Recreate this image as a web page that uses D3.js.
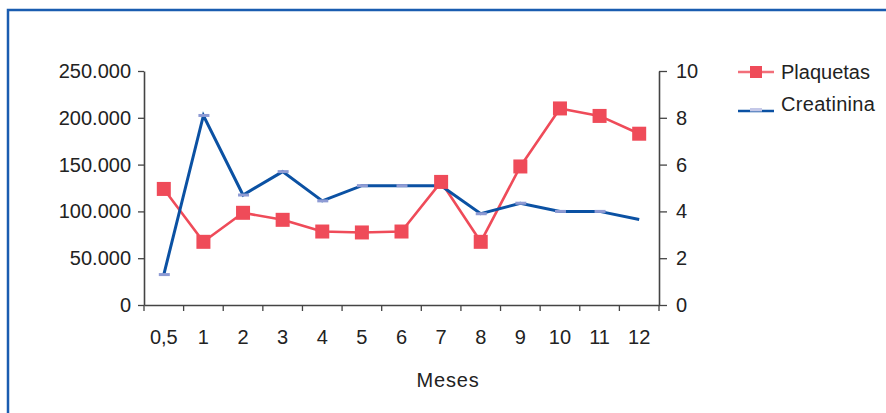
<!DOCTYPE html>
<html>
<head>
<meta charset="utf-8">
<script src="https://cdn.jsdelivr.net/npm/d3@7"></script>
<style>
  html, body { margin: 0; padding: 0; background: #fff; }
  svg { display: block; }
  text { font-family: "Liberation Sans", Arial, Helvetica, sans-serif; fill: #222; }
</style>
</head>
<body>
<svg id="chart" width="886" height="413"></svg>
<script>
const months = ["0,5", "1", "2", "3", "4", "5", "6", "7", "8", "9", "10", "11", "12"];
const plaquetas = [124000, 67500, 98500, 91000, 78500, 77500, 78500, 131500, 67500, 148000, 210000, 202000, 183000];
const creatinina = [1.3, 8.1, 4.7, 5.7, 4.45, 5.1, 5.1, 5.1, 3.9, 4.35, 4.0, 4.0, 3.65];
const leftTicks = [0, 50000, 100000, 150000, 200000, 250000];
const rightTicks = [0, 2, 4, 6, 8, 10];
const seriesNames = ["Plaquetas", "Creatinina"];

const RED = "#ef4b59", BLUE = "#0b51a3", LAV = "#8e9bd4", FRAME = "#1a5cb0", AX = "#444";
const svg = d3.select("#chart");

// frame
svg.append("rect").attr("x", 8).attr("y", 10).attr("width", 900).attr("height", 430)
  .attr("fill", "none").attr("stroke", FRAME).attr("stroke-width", 2.5);

const x = d3.scaleBand().domain(months).range([144, 659]).paddingInner(0).paddingOuter(0);
const yL = d3.scaleLinear().domain([0, 250000]).range([305, 71]);
const yR = d3.scaleLinear().domain([0, 10]).range([305, 71]);
const cx = m => x(m) + x.bandwidth() / 2;

const fmt = d => d3.format(",")(d).replace(/,/g, ".");

// left axis
const gL = svg.append("g").attr("transform", "translate(144,0)")
  .call(d3.axisLeft(yL).tickValues(leftTicks).tickFormat(fmt).tickSize(6).tickSizeOuter(0).tickPadding(7));
// right axis
const gR = svg.append("g").attr("transform", "translate(659,0)")
  .call(d3.axisRight(yR).tickValues(rightTicks).tickSize(8).tickSizeOuter(0).tickPadding(9));
// bottom axis
const gB = svg.append("g").attr("transform", "translate(0,305)")
  .call(d3.axisBottom(x).tickSize(0).tickSizeOuter(0).tickPadding(25));
// boundary ticks for category axis
const bounds = months.map(m => x(m)).concat([x(months[months.length - 1]) + x.bandwidth()]);
gB.selectAll(".btick").data(bounds).enter().append("line")
  .attr("x1", d => d).attr("x2", d => d).attr("y1", 0).attr("y2", 6)
  .attr("stroke", AX).attr("stroke-width", 1.3);

[gL, gR, gB].forEach(g => {
  g.selectAll(".domain").attr("stroke", AX).attr("stroke-width", 1.6);
  g.selectAll(".tick line").attr("stroke", AX).attr("stroke-width", 1.3);
  g.selectAll("text").attr("font-size", 20).attr("font-family", "Liberation Sans, Arial, sans-serif").attr("fill", "#222");
});

// axis title
svg.append("text").attr("x", 448).attr("y", 387).attr("text-anchor", "middle")
  .attr("font-size", 20).attr("letter-spacing", 0.8).text("Meses");

// lines
const lineP = d3.line().x((d, i) => cx(months[i])).y(d => yL(d));
const lineC = d3.line().x((d, i) => cx(months[i])).y(d => yR(d));

svg.append("path").datum(plaquetas).attr("d", lineP)
  .attr("fill", "none").attr("stroke", RED).attr("stroke-width", 2.6).attr("stroke-linejoin", "round");
svg.append("path").datum(creatinina).attr("d", lineC)
  .attr("fill", "none").attr("stroke", BLUE).attr("stroke-width", 3).attr("stroke-linejoin", "miter");

// creatinina markers (dashes)
svg.append("g").selectAll("rect").data(creatinina.slice(0, creatinina.length - 1)).enter().append("rect")
  .attr("x", (d, i) => cx(months[i]) - 5).attr("y", d => yR(d) - 1.5)
  .attr("width", 11).attr("height", 3).attr("fill", LAV);

// plaquetas markers (squares)
svg.append("g").selectAll("rect").data(plaquetas).enter().append("rect")
  .attr("x", (d, i) => cx(months[i]) - 7).attr("y", d => yL(d) - 7)
  .attr("width", 14).attr("height", 14).attr("fill", RED);

// legend
const lg = svg.append("g");
// Plaquetas
lg.append("line").attr("x1", 738).attr("x2", 774).attr("y1", 72).attr("y2", 72)
  .attr("stroke", RED).attr("stroke-width", 2.6).attr("stroke-opacity", 0.8);
lg.append("rect").attr("x", 750).attr("y", 66).attr("width", 12).attr("height", 12).attr("fill", RED);
lg.append("text").attr("x", 781).attr("y", 79).attr("font-size", 20).text(seriesNames[0]);
// Creatinina
lg.append("line").attr("x1", 738).attr("x2", 774).attr("y1", 111).attr("y2", 111)
  .attr("stroke", BLUE).attr("stroke-width", 2.6);
lg.append("rect").attr("x", 750).attr("y", 108).attr("width", 12).attr("height", 3.5).attr("fill", "#c4c8e8");
lg.append("text").attr("x", 781).attr("y", 111).attr("font-size", 20).attr("letter-spacing", 0.3).text(seriesNames[1]);
</script>
</body>
</html>
